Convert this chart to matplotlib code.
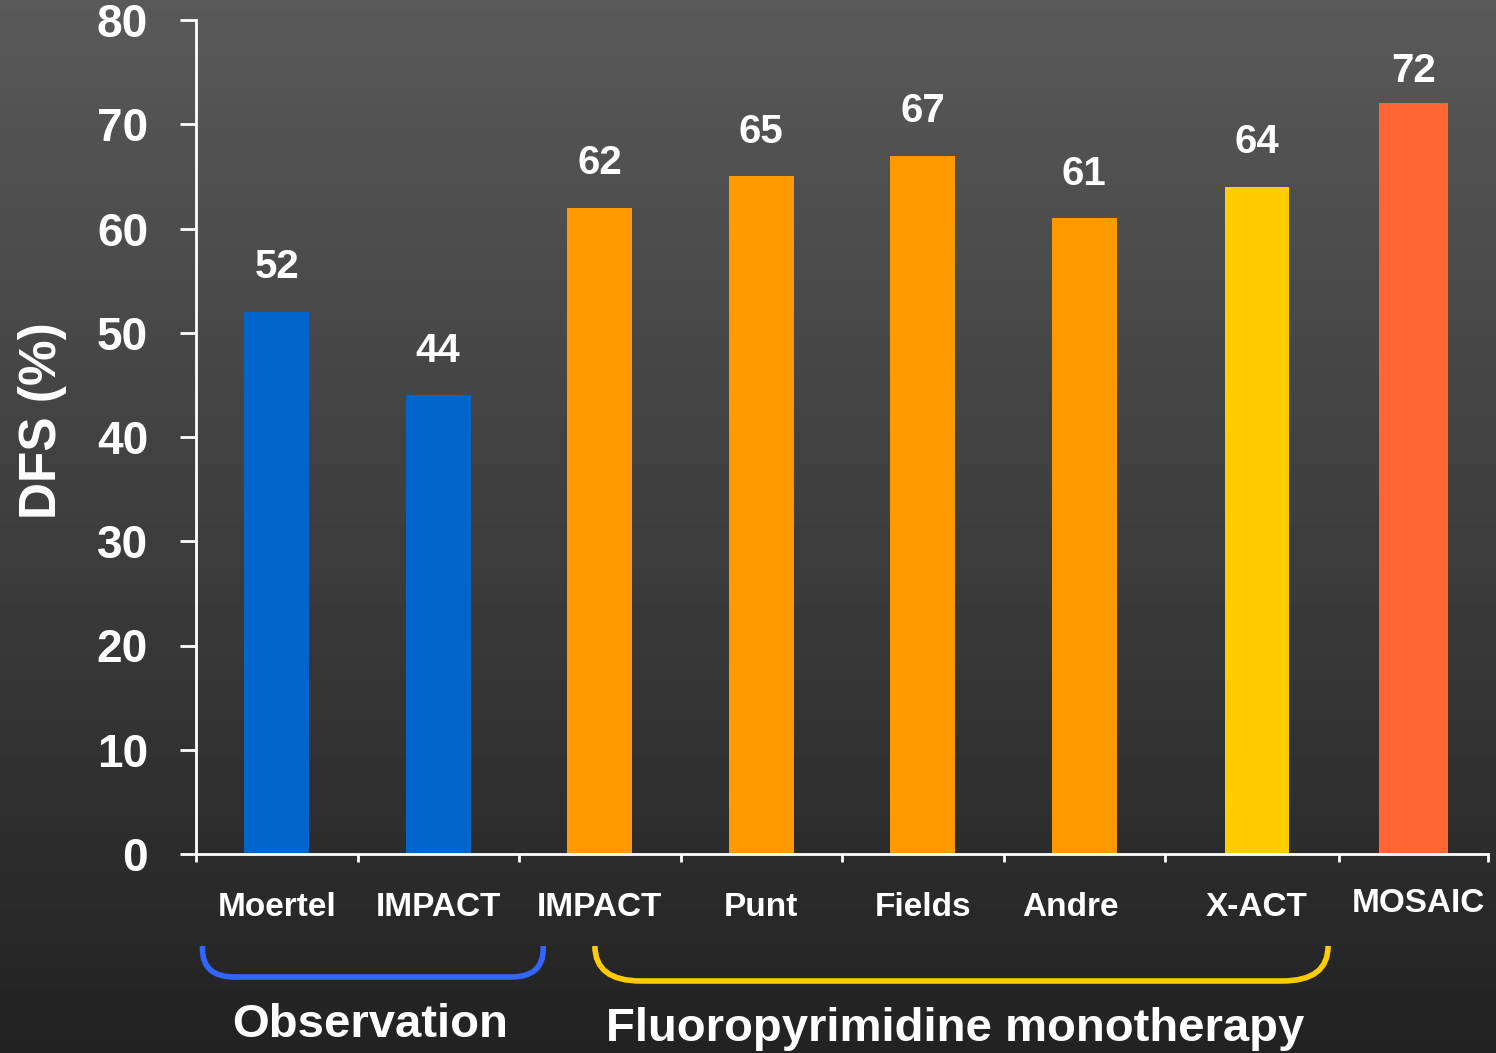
import numpy as np
import matplotlib
matplotlib.use("Agg")
import matplotlib.pyplot as plt
from matplotlib.path import Path
from matplotlib.patches import PathPatch
from matplotlib.transforms import IdentityTransform, ScaledTranslation

# Daten
studies = ["Moertel", "IMPACT", "IMPACT", "Punt", "Fields", "Andre", "X-ACT", "MOSAIC"]
dfs = [52, 44, 62, 65, 67, 61, 64, 72]
bar_colors = ["#0066cc", "#0066cc", "#ff9900", "#ff9900", "#ff9900", "#ff9900", "#ffcc00", "#ff6633"]
groups = ["Observation", "Fluoropyrimidine monotherapy"]
group_colors = ["#3366ff", "#ffcc00"]
y_ticks = [0, 10, 20, 30, 40, 50, 60, 70, 80]

plt.rcParams["font.family"] = ["Liberation Sans", "DejaVu Sans"]
plt.rcParams["font.weight"] = "bold"

W, H = 1496, 1053
fig = plt.figure(figsize=(W / 100, H / 100), dpi=100)

# Hintergrund-Verlauf
bg = fig.add_axes([0, 0, 1, 1])
grad = np.linspace(0.35, 0.135, 256).reshape(-1, 1)
bg.imshow(grad, aspect="auto", cmap="gray", vmin=0, vmax=1, extent=[0, 1, 0, 1])
bg.axis("off")

ax = fig.add_axes([196 / W, 1 - 854 / H, (1488 - 196) / W, (854 - 20) / H])
ax.patch.set_alpha(0)

x = np.arange(len(studies)) + 0.5
x[6] += 0.07
x[7] += 0.04
widths = [0.40] * 7 + [0.43]
ax.bar(x, dfs, width=widths, color=bar_colors, zorder=2)

for xi, v in zip(x, dfs):
    off = 23 if v >= 72 else 32
    ax.annotate(str(v), (xi, v), xytext=(0, off), textcoords="offset points",
                ha="center", va="center", color="white", fontsize=29, fontweight="bold")

ax.set_xlim(0, 8)
ax.set_ylim(0, 80)
ax.set_yticks(y_ticks)
ax.set_yticklabels([str(t) for t in y_ticks], fontsize=33, color="white", fontweight="bold")
ax.tick_params(axis="y", length=11.5, width=2, color="white", pad=23)

bounds = [0, 1, 2, 3, 4, 5, 6, 7.08, 8]
ax.set_xticks(bounds)
ax.set_xticklabels([])
ax.tick_params(axis="x", which="major", length=6, width=2, color="white")
ax.set_xticks(x, studies, minor=True)
ax.tick_params(axis="x", which="minor", length=0, pad=27, labelsize=24, labelcolor="white")

# kleine Verschiebungen einzelner Beschriftungen (Pixel)
shifts = {5: (-14, 0), 7: (5, 3)}
for i, lbl in enumerate(ax.get_xticklabels(minor=True)):
    if i in shifts:
        dx, dy = shifts[i]
        lbl.set_transform(lbl.get_transform() + ScaledTranslation(dx / 100, dy / 100, fig.dpi_scale_trans))

for s in ["top", "right"]:
    ax.spines[s].set_visible(False)
for s in ["left", "bottom"]:
    ax.spines[s].set_color("white")
    ax.spines[s].set_linewidth(2)

ax.set_ylabel("DFS (%)", fontsize=37, color="white", fontweight="bold")
ax.yaxis.label.set_verticalalignment("center")
ax.yaxis.set_label_coords(-0.119, 0.52)

# Klammern fuer Gruppen
fig.canvas.draw()
spans = [(0.04, 2.15), (2.47, 7.01)]
brk = [(946, 977, 32, 28), (946, 981, 46, 35)]
text_pos = [(-3, 1025), (-6, 1029)]
for (a, b), (yt, yb, rx, ry), (tdx, ty), col, name in zip(spans, brk, text_pos, group_colors, groups):
    x0 = ax.transData.transform((a, 0))[0]
    x1 = ax.transData.transform((b, 0))[0]
    ytop, ybot = H - yt, H - yb
    verts = [(x0, ytop), (x0, ybot + ry), (x0, ybot), (x0 + rx, ybot),
             (x1 - rx, ybot), (x1, ybot), (x1, ybot + ry), (x1, ytop)]
    codes = [Path.MOVETO, Path.LINETO, Path.CURVE3, Path.CURVE3,
             Path.LINETO, Path.CURVE3, Path.CURVE3, Path.LINETO]
    fig.add_artist(PathPatch(Path(verts, codes), transform=IdentityTransform(),
                             fill=False, edgecolor=col, lw=4, capstyle="butt"))
    fig.text(((x0 + x1) / 2 + tdx) / W, 1 - ty / H, name, ha="center", va="center",
             color="white", fontsize=34, fontweight="bold")

fig.savefig("out.png", dpi=100)
